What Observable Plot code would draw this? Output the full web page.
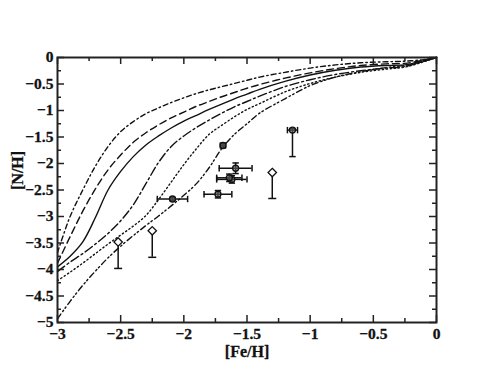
<!DOCTYPE html>
<html><head><meta charset="utf-8">
<script src="https://cdn.jsdelivr.net/npm/d3@7"></script>
<script src="https://cdn.jsdelivr.net/npm/@observablehq/plot@0.6"></script>
<style>body{margin:0;background:#fff}</style>
</head><body><div id="chart"></div>
<script>
// ---- data ----
const feGrid = [-3,-2.9,-2.8,-2.7,-2.6,-2.5,-2.4,-2.3,-2.2,-2.1,-2.0,-1.9,-1.8,-1.7,-1.6,-1.5,-1.4,-1.2,-1.0,-0.8,-0.6,-0.4,-0.25,-0.1,0];
const curveA = [-3.68,-3.0,-2.5,-2.05,-1.68,-1.40,-1.21,-1.06,-0.95,-0.85,-0.76,-0.68,-0.61,-0.55,-0.49,-0.43,-0.37,-0.28,-0.20,-0.14,-0.10,-0.08,-0.07,-0.04,0];
const curveB = [-3.88,-3.38,-2.90,-2.48,-2.12,-1.84,-1.60,-1.42,-1.27,-1.14,-1.03,-0.92,-0.83,-0.74,-0.66,-0.58,-0.51,-0.39,-0.29,-0.21,-0.15,-0.12,-0.11,-0.05,0];
const curveC = [-3.95,-3.75,-3.48,-3.02,-2.50,-2.15,-1.87,-1.65,-1.48,-1.33,-1.20,-1.09,-0.98,-0.88,-0.78,-0.69,-0.60,-0.45,-0.33,-0.24,-0.18,-0.15,-0.14,-0.06,0];
const curveD = [-4.04,-3.86,-3.70,-3.52,-3.32,-3.08,-2.78,-2.38,-1.98,-1.68,-1.48,-1.32,-1.18,-1.05,-0.93,-0.83,-0.73,-0.55,-0.42,-0.32,-0.25,-0.20,-0.17,-0.07,0];
const curveE = [-4.21,-4.05,-3.88,-3.70,-3.52,-3.35,-3.18,-2.98,-2.68,-2.35,-2.02,-1.72,-1.45,-1.28,-1.12,-0.98,-0.87,-0.65,-0.49,-0.37,-0.28,-0.22,-0.18,-0.08,0];
const curveF = [-4.93,-4.60,-4.30,-4.03,-3.78,-3.56,-3.36,-3.17,-2.99,-2.80,-2.60,-2.38,-2.08,-1.72,-1.45,-1.25,-1.05,-0.78,-0.53,-0.37,-0.27,-0.19,-0.15,-0.07,0];

// observed stars (circles with error bars)
const obsFe   = [-2.09,-1.73,-1.62,-1.64,-1.59,-1.69,-1.14];
const obsN    = [-2.67,-2.58,-2.30,-2.27,-2.09,-1.66,-1.37];
const obsFeErr= [0.12, 0.11, 0.12, 0.10, 0.13, 0.02, 0.04];
const obsNLo  = [0.03, 0.07, 0.07, 0.07, 0.10, 0.03, 0.50];
const obsNHi  = [0.03, 0.07, 0.07, 0.07, 0.10, 0.03, 0.03];
// upper limits (open diamonds)
const limFe   = [-2.52,-2.25,-1.30];
const limN    = [-3.48,-3.27,-2.17];
const limNLo  = [-3.98,-3.77,-2.66];

const xMajor = [-3,-2.5,-2,-1.5,-1,-0.5,0];
const xMinor = [-2.75,-2.25,-1.75,-1.25,-0.75,-0.25];
const yMajor = [0,-0.5,-1,-1.5,-2,-2.5,-3,-3.5,-4,-4.5,-5];
const yMinor = [-0.25,-0.75,-1.25,-1.75,-2.25,-2.75,-3.25,-3.75,-4.25,-4.75];
const xTitle = "[Fe/H]";
const yTitle = "[N/H]";

// ---- layout ----
const W = 491, H = 379, mL = 57, mR = 55, mT = 57, mB = 57;
const iw = W - mL - mR, ih = H - mT - mB;
const MAJ = 7, MIN = 4;
const FONT = "'Liberation Serif', 'DejaVu Serif', serif";

const curves = [
  {y: curveA, dash: "5,3,1.5,3"},
  {y: curveB, dash: "7,4"},
  {y: curveC, dash: null},
  {y: curveD, dash: "9,3,2,3"},
  {y: curveE, dash: "1.3,2.7"},
  {y: curveF, dash: "6,3,1.5,2.5,1.5,3"}
];

const obs = obsFe.map((x, i) => ({x, y: obsN[i], x1: x - obsFeErr[i], x2: x + obsFeErr[i], y1: obsN[i] - obsNLo[i], y2: obsN[i] + obsNHi[i]}));
const lim = limFe.map((x, i) => ({x, y: limN[i], ylo: limNLo[i]}));

const hcap = {draw(ctx, size){ const r = Math.sqrt(size/Math.PI); ctx.moveTo(-r,0); ctx.lineTo(r,0); }};
const vcap = {draw(ctx, size){ const r = Math.sqrt(size/Math.PI); ctx.moveTo(0,-r); ctx.lineTo(0,r); }};
const rhomb = {draw(ctx, size){ const r = Math.sqrt(size/Math.PI); ctx.moveTo(0,-r); ctx.lineTo(r,0); ctx.lineTo(0,r); ctx.lineTo(-r,0); ctx.closePath(); }};

const fmt = d => d === 0 ? "0" : "\u2212" + Math.abs(d);
const ink = "#111";
const txt = {fontSize: 15.5, fontWeight: "bold", fontFamily: FONT, fill: ink, stroke: ink, strokeWidth: 0.3};

const marks = [];
for (const c of curves) {
  marks.push(Plot.line(feGrid.map((x, i) => ({x, y: c.y[i]})), {
    x: "x", y: "y", curve: "catmull-rom", stroke: ink, strokeWidth: 1.4,
    strokeDasharray: c.dash || undefined
  }));
}
// error bars for observed points
marks.push(Plot.ruleY(obs, {y: "y", x1: "x1", x2: "x2", stroke: ink, strokeWidth: 1.5}));
marks.push(Plot.ruleX(obs, {x: "x", y1: "y1", y2: "y2", stroke: ink, strokeWidth: 1.5}));
marks.push(Plot.dot(obs, {x: "x1", y: "y", symbol: vcap, r: 3.2, stroke: ink, fill: "none", strokeWidth: 1.5}));
marks.push(Plot.dot(obs, {x: "x2", y: "y", symbol: vcap, r: 3.2, stroke: ink, fill: "none", strokeWidth: 1.5}));
marks.push(Plot.dot(obs, {x: "x", y: "y1", symbol: hcap, r: 3.2, stroke: ink, fill: "none", strokeWidth: 1.5}));
marks.push(Plot.dot(obs, {x: "x", y: "y2", symbol: hcap, r: 3.2, stroke: ink, fill: "none", strokeWidth: 1.5}));
marks.push(Plot.dot(obs, {x: "x", y: "y", r: 3, stroke: ink, fill: "#666", fillOpacity: 0.6, strokeWidth: 1.3}));
// upper limits
marks.push(Plot.ruleX(lim, {x: "x", y1: "y", y2: "ylo", stroke: ink, strokeWidth: 1.5}));
marks.push(Plot.dot(lim, {x: "x", y: "ylo", symbol: hcap, r: 4, stroke: ink, fill: "none", strokeWidth: 1.5}));
marks.push(Plot.dot(lim, {x: "x", y: "y", symbol: rhomb, r: 4.2, stroke: ink, fill: "white", strokeWidth: 1.3}));

// frame + inward ticks on all four sides
marks.push(Plot.frame({stroke: "#222", strokeWidth: 2}));
marks.push(Plot.tickX(xMajor, {x: d => d, insetTop: ih - MAJ, stroke: "#222", strokeWidth: 1.5}));
marks.push(Plot.tickX(xMinor, {x: d => d, insetTop: ih - MIN, stroke: "#222", strokeWidth: 1.5}));
marks.push(Plot.tickX(xMajor, {x: d => d, insetBottom: ih - MAJ, stroke: "#222", strokeWidth: 1.5}));
marks.push(Plot.tickX(xMinor, {x: d => d, insetBottom: ih - MIN, stroke: "#222", strokeWidth: 1.5}));
marks.push(Plot.tickY(yMajor, {y: d => d, insetRight: iw - MAJ, stroke: "#222", strokeWidth: 1.5}));
marks.push(Plot.tickY(yMinor, {y: d => d, insetRight: iw - MIN, stroke: "#222", strokeWidth: 1.5}));
marks.push(Plot.tickY(yMajor, {y: d => d, insetLeft: iw - MAJ, stroke: "#222", strokeWidth: 1.5}));
marks.push(Plot.tickY(yMinor, {y: d => d, insetLeft: iw - MIN, stroke: "#222", strokeWidth: 1.5}));
// tick labels (text marks so the bold serif style applies)
marks.push(Plot.text(xMajor, {x: d => d, frameAnchor: "bottom", lineAnchor: "top", dy: 5, text: fmt, ...txt}));
marks.push(Plot.text(yMajor, {y: d => d, frameAnchor: "left", textAnchor: "end", dx: -4, text: fmt, ...txt}));
// axis titles
marks.push(Plot.text([xTitle], {frameAnchor: "bottom", dy: 34, text: d => d, ...txt, fontSize: 16}));
marks.push(Plot.text([yTitle], {frameAnchor: "left", dx: -40, rotate: -90, text: d => d, ...txt, fontSize: 16}));

const chart = Plot.plot({
  width: W, height: H,
  marginLeft: mL, marginRight: mR, marginTop: mT, marginBottom: mB,
  x: {domain: [-3, 0], axis: null},
  y: {domain: [-5, 0], axis: null},
  style: {fontFamily: FONT, fontSize: "15.5px", fontWeight: "bold", color: "#111", background: "white"},
  marks
});
document.getElementById("chart").appendChild(chart);
</script>
</body></html>
